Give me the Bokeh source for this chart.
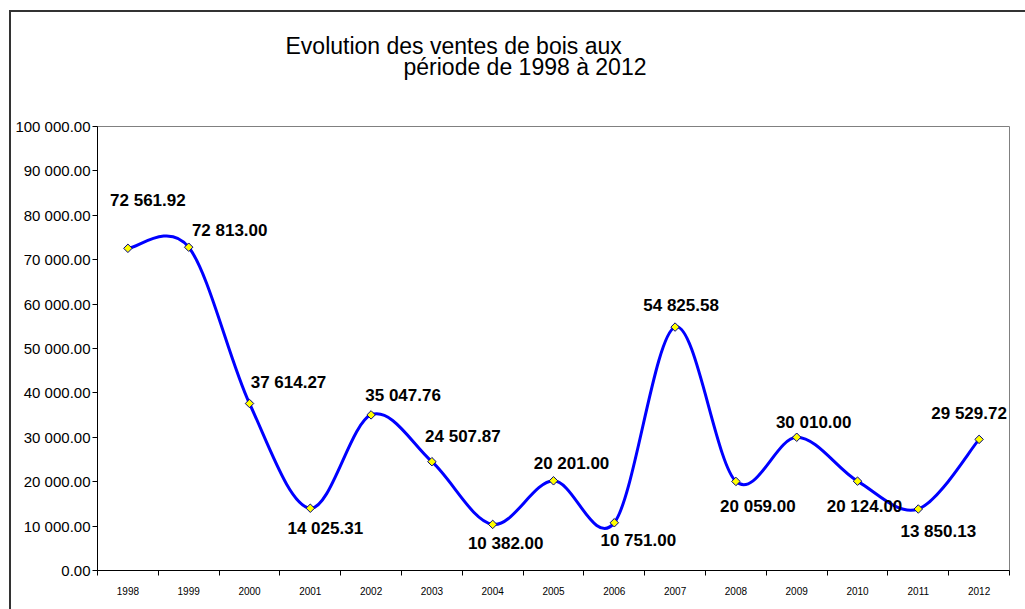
import math
from bokeh.plotting import figure
from bokeh.models import (ColumnDataSource, FixedTicker, LabelSet, Title,
                          Range1d, InlineStyleSheet)
from bokeh.core.properties import value
from bokeh.embed import file_html
from bokeh.resources import INLINE

# ---------------- data ----------------
years = [1998, 1999, 2000, 2001, 2002, 2003, 2004, 2005,
         2006, 2007, 2008, 2009, 2010, 2011, 2012]
sales = [72561.92, 72813.00, 37614.27, 14025.31, 35047.76, 24507.87,
         10382.00, 20201.00, 10751.00, 54825.58, 20059.00, 30010.00,
         20124.00, 13850.13, 29529.72]
y_ticks = [0, 10000, 20000, 30000, 40000, 50000, 60000, 70000, 80000, 90000, 100000]
y_tick_labels = ["0.00", "10 000.00", "20 000.00", "30 000.00", "40 000.00",
                 "50 000.00", "60 000.00", "70 000.00", "80 000.00",
                 "90 000.00", "100 000.00"]
title_line1 = "Evolution des ventes de bois aux"
title_line2 = "période  de 1998 à 2012"

# label placement (pixels, dy positive = up)
label_dx = [20, 41, 39, 15, 32, 31, 13, 18, 24, 6, 22, 17, 7, 20, -10]
label_dy = [48, 17, 21, -20, 19, 25, -19, 17, -18, 22, -25, 15, -25, -22, 26]

FONT = "Liberation Sans"

def fmt(v):
    return f"{v:,.2f}".replace(",", " ")

# ---------------- smoothed line (Bezier through the points) ----------------
n = len(years)
x0, y0, x1, y1, cx0, cy0, cx1, cy1 = [], [], [], [], [], [], [], []
for i in range(n - 1):
    pxp, pyp = (years[i - 1], sales[i - 1]) if i > 0 else (years[i], sales[i])
    pxn, pyn = (years[i + 2], sales[i + 2]) if i + 2 < n else (years[i + 1], sales[i + 1])
    x0.append(years[i]); y0.append(sales[i])
    x1.append(years[i + 1]); y1.append(sales[i + 1])
    cx0.append(years[i] + (years[i + 1] - pxp) / 6.0)
    cy0.append(sales[i] + (sales[i + 1] - pyp) / 6.0)
    cx1.append(years[i + 1] - (pxn - years[i]) / 6.0)
    cy1.append(sales[i + 1] - (pyn - sales[i]) / 6.0)

# title lines: t2 (added) sits next to the plot area, t1 (main title) above it
t1 = Title(text=title_line1, align="left", offset=188, text_font=FONT,
           text_font_size="23px", text_font_style="normal", text_color="black",
           vertical_align="bottom", standoff=-108)
t2 = Title(text=title_line2, align="left", offset=306, text_font=FONT,
           text_font_size="23px", text_font_style="normal", text_color="black",
           vertical_align="bottom", standoff=94)

p = figure(width=1025, height=609, output_backend="svg", toolbar_location=None,
           x_range=Range1d(years[0] - 0.5, years[-1] + 0.5),
           y_range=Range1d(y_ticks[0], y_ticks[-1]),
           min_border_left=97, min_border_top=126, min_border_right=16,
           min_border_bottom=39, title=t1)
p.add_layout(t2, "above")
p.xgrid.visible = False
p.ygrid.visible = False
p.outline_line_color = "#808080"
p.outline_line_width = 1
p.background_fill_color = "white"
p.border_fill_color = "white"

# outer chart-area frame (left and top edges visible, rest beyond the page)
p.stylesheets = [InlineStyleSheet(css="""
:host::after {
  content: "";
  position: absolute;
  left: 9px; top: 10px;
  width: calc(100% - 9px); height: calc(100% - 10px);
  border-left: 2px solid #333333;
  border-top: 2px solid #333333;
  box-sizing: border-box;
  pointer-events: none;
  z-index: 10;
}
""")]

p.bezier(x0=x0, y0=y0, x1=x1, y1=y1, cx0=cx0, cy0=cy0, cx1=cx1, cy1=cy1,
         line_color="#0000FF", line_width=3)
p.scatter(years, sales, marker="square", angle=math.pi / 4, size=6,
          fill_color="#FFFF00", line_color="#000080", line_width=1)

src = ColumnDataSource(dict(x=years, y=sales, label=[fmt(v) for v in sales],
                            dx=label_dx, dy=label_dy))
p.add_layout(LabelSet(x="x", y="y", text="label", x_offset="dx", y_offset="dy",
                      source=src, text_align="center", text_baseline="middle",
                      text_font=value(FONT), text_font_size=value("17px"),
                      text_font_style=value("bold"), text_color=value("black")))

# axes
xa = p.xaxis[0]
xa.ticker = FixedTicker(ticks=years,
                        minor_ticks=[y - 0.5 for y in years] + [years[-1] + 0.5])
xa.major_label_overrides = {y: str(y) for y in years}
xa.major_tick_in = 0
xa.major_tick_out = 0
xa.minor_tick_in = 0
xa.minor_tick_out = 5
xa.minor_tick_line_color = "black"
xa.axis_line_color = "black"
xa.major_label_text_font = FONT
xa.major_label_text_font_size = "10px"
xa.major_label_text_color = "black"
xa.major_label_standoff = 11

ya = p.yaxis[0]
ya.ticker = FixedTicker(ticks=y_ticks, minor_ticks=[])
ya.major_label_overrides = dict(zip(y_ticks, y_tick_labels))
ya.major_tick_in = 0
ya.major_tick_out = 5
ya.minor_tick_out = 0
ya.minor_tick_in = 0
ya.major_tick_line_color = "black"
ya.axis_line_color = "black"
ya.major_label_text_font = FONT
ya.major_label_text_font_size = "15px"
ya.major_label_text_color = "black"
ya.major_label_standoff = 2

open("out.html", "w").write(file_html(p, INLINE))
